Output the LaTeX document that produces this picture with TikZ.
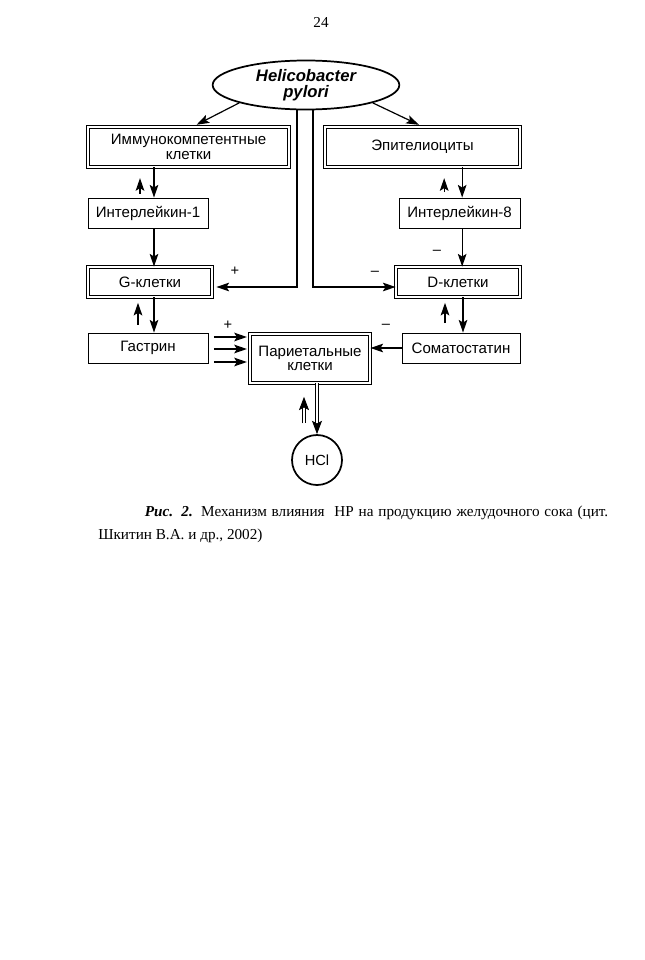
\documentclass[tikz,border=0pt]{standalone}
\usepackage{fontspec}
\setmainfont{Liberation Serif}
\setsansfont{Liberation Sans}
\usetikzlibrary{shapes.geometric, arrows.meta, positioning}

\begin{document}
\begin{tikzpicture}[x=0.75pt, y=-0.75pt,
    box/.style={rectangle, draw, line width=0.7pt, inner sep=1pt, align=center, font=\sffamily\fontsize{11.3}{10.8}\selectfont},
    dbox/.style={box, double, double distance=1.4pt},
    arrow/.style={-{Stealth[length=9.5pt, width=6.5pt, inset=2pt]}, line width=0.9pt},
    dblarrow/.style={-{Stealth[length=10pt, width=7.5pt, inset=2pt]}, double, double distance=1.6pt, line width=0.7pt},
    sign/.style={font=\sffamily\fontsize{11}{11}\selectfont}
]
\useasboundingbox (0,0) rectangle (645,960);

% Page number
\node[font=\fontsize{11.4}{13}\selectfont] (pagenum) at (321,22) {24};

% Source
\node[ellipse, draw, line width=1.3pt, minimum width=140pt, minimum height=36.75pt, inner sep=0pt,
      align=center, font=\sffamily\bfseries\itshape\fontsize{12.5}{12.2}\selectfont] (hp) at (306,85) {Helicobacter\\pylori};

% Cells
\node[dbox, minimum width=150.75pt, minimum height=30pt] (imm) at (188.5,147) {Иммунокомпетентные\\клетки};
\node[dbox, minimum width=146.25pt, minimum height=30pt] (epi) at (422.5,147) {Эпителиоциты};
\node[box, minimum width=90pt, minimum height=22.5pt] (il1) at (148,213) {Интерлейкин-1};
\node[box, minimum width=90.75pt, minimum height=22.5pt] (il8) at (459.5,213) {Интерлейкин-8};
\node[dbox, minimum width=93pt, minimum height=22.5pt] (gcell) at (150,282) {G-клетки};
\node[dbox, minimum width=93pt, minimum height=22.5pt] (dcell) at (458,282) {D-клетки};
\node[box, minimum width=90pt, minimum height=22.5pt] (gas) at (148,348) {Гастрин};
\node[box, minimum width=88.5pt, minimum height=22.5pt] (som) at (461,348) {Соматостатин};
\node[dbox, minimum width=90pt, minimum height=36.75pt] (par) at (310,358.5) {Париетальные\\клетки};
\node[circle, draw, line width=1.3pt, minimum size=37.5pt, inner sep=0pt, font=\sffamily\fontsize{11}{11}\selectfont] (hcl) at (317,460) {HCl};

% From H. pylori
\draw[arrow, shorten >=3pt] (hp.195) -- ([xshift=3.4pt]imm.north);
\draw[arrow, shorten >=3pt] (hp.-15) -- (epi.north);
\draw[arrow, shorten >=3pt] ([xshift=-6.75pt]hp.south) |- ([yshift=-3.75pt]gcell.east);
\draw[arrow] ([xshift=5.25pt]hp.south) |- ([yshift=-3.75pt]dcell.west);

% Left chain
\draw[arrow, shorten >=8pt, shorten <=3pt] ([xshift=-6pt]il1.north) -- ([xshift=-6pt]il1.north |- imm.south);
\draw[arrow] ([xshift=4.5pt]il1.north |- imm.south) -- ([xshift=4.5pt]il1.north);
\draw[arrow] ([xshift=4.5pt]il1.south) -- ([xshift=4.5pt]il1.south |- gcell.north);
\draw[arrow, shorten >=4pt, shorten <=6pt] ([xshift=-7.5pt]gas.north) -- ([xshift=-7.5pt]gas.north |- gcell.south);
\draw[arrow] ([xshift=4.5pt]gas.north |- gcell.south) -- ([xshift=4.5pt]gas.north);

% Right chain
\draw[arrow, shorten >=8pt, shorten <=4pt] ([xshift=-11.5pt]il8.north) -- ([xshift=-11.5pt]il8.north |- epi.south);
\draw[arrow] ([xshift=2pt]il8.north |- epi.south) -- ([xshift=2pt]il8.north);
\draw[arrow] ([xshift=2pt]il8.south) -- ([xshift=2pt]il8.south |- dcell.north);
\draw[arrow, shorten >=4pt, shorten <=7pt] ([xshift=-12pt]som.north) -- ([xshift=-12pt]som.north |- dcell.south);
\draw[arrow] ([xshift=1.5pt]som.north |- dcell.south) -- ([xshift=1.5pt]som.north);

% To parietal cells
\foreach \dy in {8.25,-0.75,-10.5}
  \draw[arrow, shorten <=4pt, shorten >=2pt] ([yshift=\dy pt]gas.east) -- ([yshift=\dy pt]gas.east -| par.west);
\draw[arrow] (som.west) -- (som.west -| par.east);

% HCl
\draw[dblarrow, shorten <=8pt, shorten >=10pt] ([xshift=-9.75pt]hcl.north) -- ([xshift=-9.75pt]hcl.north |- par.south);
\draw[dblarrow] (hcl.north |- par.south) -- (hcl.north);

% Signs
\node[sign] (plusg) at (235,271) {+};
\node[sign] (minusd) at (375,273) {--};
\node[sign] (minusil) at (437,252) {--};
\node[sign] (plusgas) at (228,325) {+};
\node[sign] (minussom) at (386,326) {--};

% Caption
\node[anchor=north west, inner sep=0pt, text width=382.5pt, align=justify,
      font=\fontsize{11.4}{17.25}\selectfont] (caption) at (98,506)
  {\hspace*{35pt}\textbf{\textit{Рис. 2.}} Механизм влияния~~HP на продукцию желудочного сока (цит. Шкитин В.А. и др., 2002)};

\end{tikzpicture}
\end{document}
